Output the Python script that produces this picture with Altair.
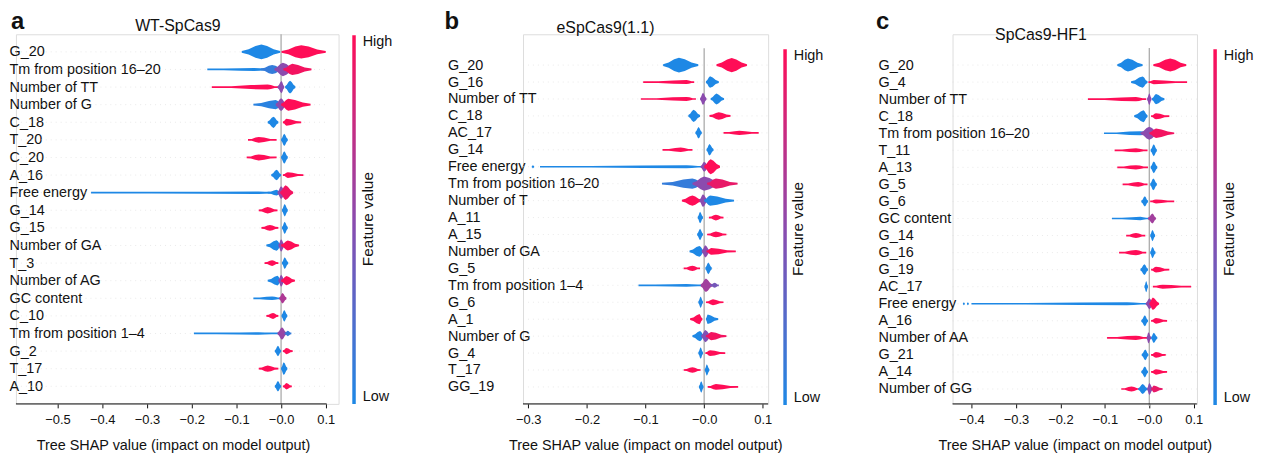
import altair as alt
import pandas as pd

FONT = "Liberation Sans"
INK = "#111111"
BLUE, PURPLE, RED = "#1E88E5", "#8B4BAE", "#FF0D57"
XTITLE = "Tree SHAP value (impact on model output)"

# ---------------- data ----------------
# each blob: (x_start, x_peak, x_end, peak half-thickness in row units, feature value 0=low..1=high)
a_name, a_letter = "WT-SpCas9", "a"
a_features = ["G_20", "Tm from position 16–20", "Number of TT", "Number of G", "C_18", "T_20", "C_20",
              "A_16", "Free energy", "G_14", "G_15", "Number of GA", "T_3", "Number of AG", "GC content",
              "C_10", "Tm from position 1–4", "G_2", "T_17", "A_10"]
a_blobs = [
    [(-0.088, -0.044, -0.002, 0.42, 0.0), (0.001, 0.045, 0.100, 0.38, 1.0)],
    [(-0.165, -0.06, -0.02, 0.09, 0.0), (-0.045, -0.02, 0.005, 0.26, 0.1), (-0.015, 0.004, 0.03, 0.38, 0.5), (0.005, 0.025, 0.068, 0.32, 0.95)],
    [(-0.155, -0.03, -0.006, 0.14, 1.0), (-0.008, 0.001, 0.007, 0.35, 0.5), (0.009, 0.02, 0.032, 0.36, 0.0)],
    [(-0.062, -0.012, 0.004, 0.26, 0.05), (-0.012, 0.0, 0.012, 0.36, 0.5), (0.0, 0.016, 0.066, 0.34, 1.0)],
    [(-0.030, -0.017, -0.006, 0.32, 0.0), (0.004, 0.012, 0.045, 0.2, 1.0)],
    [(-0.074, -0.05, -0.01, 0.16, 1.0), (0.0, 0.007, 0.015, 0.35, 0.0)],
    [(-0.077, -0.05, -0.01, 0.17, 1.0), (0.0, 0.007, 0.015, 0.35, 0.0)],
    [(-0.022, -0.01, 0.0, 0.3, 0.0), (0.004, 0.015, 0.05, 0.16, 1.0)],
    [(-0.425, -0.05, -0.005, 0.07, 0.0), (-0.03, -0.01, 0.0, 0.16, 0.0), (-0.008, 0.0, 0.01, 0.36, 0.5), (-0.002, 0.01, 0.027, 0.42, 0.95)],
    [(-0.05, -0.03, -0.008, 0.18, 1.0), (0.002, 0.008, 0.015, 0.35, 0.0)],
    [(-0.044, -0.025, -0.006, 0.17, 1.0), (0.002, 0.008, 0.015, 0.35, 0.0)],
    [(-0.033, -0.01, 0.0, 0.3, 0.0), (-0.006, 0.0, 0.008, 0.36, 0.5), (0.0, 0.015, 0.04, 0.28, 1.0)],
    [(-0.037, -0.02, -0.006, 0.16, 1.0), (0.002, 0.008, 0.016, 0.33, 0.0)],
    [(-0.03, -0.008, 0.0, 0.28, 0.0), (-0.006, 0.0, 0.008, 0.34, 0.5), (0.0, 0.012, 0.031, 0.26, 1.0)],
    [(-0.062, -0.02, 0.0, 0.1, 0.0), (-0.004, 0.003, 0.012, 0.3, 0.65)],
    [(-0.033, -0.018, -0.006, 0.17, 1.0), (0.001, 0.007, 0.014, 0.33, 0.0)],
    [(-0.195, -0.05, -0.005, 0.07, 0.0), (-0.008, 0.002, 0.012, 0.36, 0.55), (0.008, 0.015, 0.023, 0.15, 0.1)],
    [(-0.014, -0.007, 0.0, 0.3, 0.0), (0.004, 0.012, 0.026, 0.18, 1.0)],
    [(-0.05, -0.03, -0.006, 0.18, 1.0), (0.0, 0.006, 0.014, 0.36, 0.0)],
    [(-0.014, -0.007, 0.0, 0.3, 0.0), (0.004, 0.012, 0.024, 0.18, 1.0)],
]
a_ticks = [-0.5, -0.4, -0.3, -0.2, -0.1, 0.0, 0.1]
a_axis = [-0.593, 0.102]

b_name, b_letter = "eSpCas9(1.1)", "b"
b_features = ["G_20", "G_16", "Number of TT", "C_18", "AC_17", "G_14", "Free energy", "Tm from position 16–20",
              "Number of T", "A_11", "A_15", "Number of GA", "G_5", "Tm from position 1–4", "G_6", "A_1",
              "Number of G", "G_4", "T_17", "GG_19"]
b_blobs = [
    [(-0.07, -0.043, -0.01, 0.44, 0.0), (0.021, 0.047, 0.073, 0.42, 1.0)],
    [(-0.104, -0.03, -0.017, 0.12, 1.0), (0.003, 0.01, 0.025, 0.34, 0.0)],
    [(-0.108, -0.03, -0.014, 0.12, 1.0), (-0.007, -0.002, 0.004, 0.36, 0.5), (0.011, 0.021, 0.034, 0.32, 0.0)],
    [(-0.027, -0.018, -0.007, 0.36, 0.0), (0.009, 0.025, 0.045, 0.22, 1.0)],
    [(-0.015, -0.0095, -0.004, 0.34, 0.0), (0.033, 0.06, 0.093, 0.12, 1.0)],
    [(-0.071, -0.04, -0.02, 0.13, 1.0), (0.004, 0.009, 0.016, 0.34, 0.0)],
    [(-0.294, -0.292, -0.29, 0.1, 0.0), (-0.28, -0.03, 0.0, 0.09, 0.0), (-0.006, 0.0, 0.008, 0.3, 0.5), (0.0, 0.011, 0.027, 0.44, 1.0)],
    [(-0.072, -0.02, 0.0, 0.3, 0.1), (-0.02, 0.0, 0.03, 0.42, 0.5), (0.005, 0.02, 0.057, 0.3, 0.9)],
    [(-0.038, -0.02, -0.004, 0.3, 1.0), (-0.008, -0.002, 0.006, 0.38, 0.5), (0.0, 0.01, 0.051, 0.3, 0.0)],
    [(-0.011, -0.007, -0.002, 0.34, 0.0), (0.008, 0.02, 0.033, 0.17, 1.0)],
    [(-0.012, -0.007, -0.002, 0.34, 0.0), (0.005, 0.02, 0.038, 0.17, 1.0)],
    [(-0.025, -0.008, 0.0, 0.32, 0.0), (-0.004, 0.002, 0.01, 0.36, 0.5), (0.004, 0.012, 0.054, 0.2, 1.0)],
    [(-0.035, -0.02, -0.007, 0.16, 1.0), (0.002, 0.007, 0.013, 0.34, 0.0)],
    [(-0.112, -0.03, 0.0, 0.08, 0.0), (-0.006, 0.003, 0.014, 0.4, 0.6), (0.01, 0.018, 0.025, 0.15, 0.4)],
    [(-0.01, -0.006, -0.002, 0.34, 0.0), (0.003, 0.015, 0.033, 0.17, 1.0)],
    [(-0.024, -0.008, -0.003, 0.3, 1.0), (0.003, 0.006, 0.024, 0.28, 0.0)],
    [(-0.02, -0.007, 0.0, 0.3, 0.0), (-0.005, 0.002, 0.012, 0.36, 0.45), (0.003, 0.012, 0.038, 0.25, 0.95)],
    [(-0.01, -0.006, -0.002, 0.34, 0.0), (0.002, 0.01, 0.036, 0.17, 1.0)],
    [(-0.035, -0.02, -0.006, 0.16, 1.0), (0.001, 0.0045, 0.009, 0.34, 0.0)],
    [(-0.009, -0.005, -0.001, 0.34, 0.0), (0.006, 0.02, 0.058, 0.17, 1.0)],
]
b_ticks = [-0.3, -0.2, -0.1, 0.0, 0.1]
b_axis = [-0.309, 0.109]

c_name, c_letter = "SpCas9-HF1", "c"
c_features = ["G_20", "G_4", "Number of TT", "C_18", "Tm from position 16–20", "T_11", "A_13", "G_5", "G_6",
              "GC content", "G_14", "G_16", "G_19", "AC_17", "Free energy", "A_16", "Number of AA", "G_21",
              "A_14", "Number of GG"]
c_blobs = [
    [(-0.072, -0.048, -0.015, 0.38, 0.0), (0.009, 0.047, 0.083, 0.38, 1.0)],
    [(-0.041, -0.015, -0.004, 0.33, 0.0), (-0.002, 0.01, 0.085, 0.12, 1.0)],
    [(-0.138, -0.03, -0.007, 0.13, 1.0), (-0.005, 0.0, 0.005, 0.35, 0.5), (0.006, 0.015, 0.034, 0.3, 0.0)],
    [(-0.034, -0.013, -0.004, 0.35, 0.0), (0.004, 0.015, 0.045, 0.18, 1.0)],
    [(-0.102, -0.02, 0.0, 0.12, 0.0), (-0.02, 0.0, 0.02, 0.38, 0.5), (0.0, 0.015, 0.056, 0.28, 0.95)],
    [(-0.078, -0.03, -0.004, 0.12, 1.0), (0.003, 0.01, 0.017, 0.35, 0.0)],
    [(-0.072, -0.03, -0.003, 0.13, 1.0), (0.003, 0.01, 0.018, 0.35, 0.0)],
    [(-0.06, -0.025, -0.004, 0.14, 1.0), (0.002, 0.009, 0.017, 0.35, 0.0)],
    [(-0.018, -0.01, -0.003, 0.3, 0.0), (0.002, 0.015, 0.056, 0.12, 1.0)],
    [(-0.084, -0.02, 0.0, 0.1, 0.0), (-0.003, 0.007, 0.015, 0.3, 0.6)],
    [(-0.052, -0.03, -0.009, 0.15, 1.0), (0.002, 0.007, 0.013, 0.33, 0.0)],
    [(-0.068, -0.03, -0.007, 0.15, 1.0), (0.002, 0.007, 0.014, 0.33, 0.0)],
    [(-0.02, -0.011, -0.003, 0.32, 0.0), (0.004, 0.015, 0.045, 0.17, 1.0)],
    [(-0.011, -0.007, -0.003, 0.33, 0.0), (0.008, 0.03, 0.094, 0.12, 1.0)],
    [(-0.419, -0.417, -0.415, 0.09, 0.0), (-0.41, -0.408, -0.406, 0.09, 0.0), (-0.4, -0.05, -0.002, 0.09, 0.0), (-0.008, 0.0, 0.01, 0.32, 0.5), (0.0, 0.008, 0.022, 0.36, 1.0)],
    [(-0.018, -0.01, -0.003, 0.32, 0.0), (0.004, 0.015, 0.04, 0.17, 1.0)],
    [(-0.095, -0.03, -0.005, 0.13, 1.0), (-0.006, -0.002, 0.004, 0.33, 0.5), (0.004, 0.01, 0.018, 0.3, 0.0)],
    [(-0.017, -0.009, -0.002, 0.32, 0.0), (0.004, 0.015, 0.037, 0.17, 1.0)],
    [(-0.018, -0.01, -0.003, 0.32, 0.0), (0.004, 0.015, 0.04, 0.16, 1.0)],
    [(-0.063, -0.04, -0.02, 0.14, 1.0), (-0.025, -0.015, -0.004, 0.3, 0.0), (-0.005, 0.0, 0.008, 0.35, 0.5), (0.004, 0.01, 0.03, 0.2, 0.9)],
]
c_ticks = [-0.4, -0.3, -0.2, -0.1, 0.0, 0.1]
c_axis = [-0.4425, 0.107]

# ---------------- layout (not data) ----------------
H = 372
LAYOUT = {
    "a": dict(width=324.7, xdom=[-0.593, 0.1286], ydom=[-1.0, 20.0], lpad=7, legx=338.5, legy=1, leglen=371,
              titlex=163, titley=-3, letx=-5, lety=-5, fvx=354, fvy=186, axtitlex=158),
    "b": dict(width=246.7, xdom=[-0.309, 0.1091], ydom=[-1.82, 20.0], lpad=76, legx=262, legy=15, leglen=358,
              titlex=83, titley=-1, letx=-79, lety=-5, fvx=277, fvy=196, axtitlex=123),
    "c": dict(width=246.0, xdom=[-0.4425, 0.1072], ydom=[-1.806, 19.874], lpad=75, legx=262.5, legy=15, leglen=358,
              titlex=89, titley=6, letx=-77, lety=-5, fvx=278, fvy=196, axtitlex=123),
}
# bell-like outline of a blob: (fraction along side, fraction of peak thickness)
LEFT = [(0.0, 0.12), (0.35, 0.35), (0.7, 0.8)]
RIGHT = [(0.3, 0.8), (0.65, 0.35), (1.0, 0.12)]


def blob_frame(blobs):
    recs = []
    for i, row in enumerate(blobs):
        for j, (x0, xp, x1, t, c) in enumerate(row):
            prof = [(x0 + s * (xp - x0), f) for s, f in LEFT] + [(xp, 1.0)] + \
                   [(xp + s * (x1 - xp), f) for s, f in RIGHT]
            for x, f in prof:
                hw = max(f * t, 0.05)
                recs.append({"blob": f"{i:02d}_{j}", "x": x, "lo": i - hw, "hi": i + hw, "fv": c})
    return pd.DataFrame(recs)


def text_layer(txt, x, y, size, weight="normal", angle=None, align="center", baseline="alphabetic"):
    kw = dict(fontSize=size, fontWeight=weight, align=align, baseline=baseline, color=INK, font=FONT)
    if angle is not None:
        kw["angle"] = angle
    return alt.Chart(pd.DataFrame({"t": [txt]})).mark_text(**kw).encode(
        x=alt.value(x), y=alt.value(y), text="t:N")


def panel(key, name, letter, features, blobs, ticks, axis_ext):
    L = LAYOUT[key]
    n = len(features)
    xs = alt.Scale(domain=L["xdom"], nice=False, zero=False)
    ys = alt.Scale(domain=L["ydom"], nice=False, zero=False, reverse=True)
    xa = alt.Axis(values=ticks, title=XTITLE, domain=False, grid=False, ticks=True, tickSize=4,
                  tickColor=INK, tickWidth=1, labelFontSize=13, labelColor=INK, labelPadding=6,
                  labelFlush=False, labelFont=FONT,
                  labelExpr="datum.value == 0 ? '−0.0' : (datum.value < 0 ? '−' : '') + format(abs(datum.value), '.1f')",
                  titleFontSize=14.5, titleFontWeight="normal", titleColor=INK, titleFont=FONT,
                  titleX=L["axtitlex"], titleY=46, titleBaseline="alphabetic")
    arr = "[" + ",".join("'" + f + "'" for f in features) + "]"
    ya = alt.Axis(values=list(range(n)), labelExpr=arr + "[datum.value]", title=None, domain=False,
                  ticks=False, tickSize=0, grid=False, labelAlign="left", labelBaseline="middle",
                  labelPadding=L["lpad"], labelFontSize=14.5, labelColor=INK, labelFlush=False,
                  labelOverlap=False, labelFont=FONT)

    grid = alt.Chart(pd.DataFrame({"row": list(range(n)), "x1": [axis_ext[0]] * n, "x2": [axis_ext[1]] * n})
                     ).mark_rule(color="#dcdcdc", strokeWidth=0.6, strokeDash=[1, 4]).encode(
        x=alt.X("x1:Q", scale=xs, axis=xa), x2="x2:Q", y=alt.Y("row:Q", scale=ys, axis=ya))
    zero = alt.Chart(pd.DataFrame({"x": [0.0], "y1": [-1.0], "y2": [float(n)]})).mark_rule(
        color="#ababab", strokeWidth=1.3).encode(
        x=alt.X("x:Q", scale=xs, axis=xa), y=alt.Y("y1:Q", scale=ys, axis=ya), y2="y2:Q")
    areas = alt.Chart(blob_frame(blobs)).mark_area(orient="vertical", opacity=1).encode(
        x=alt.X("x:Q", scale=xs, axis=xa),
        y=alt.Y("lo:Q", scale=ys, axis=ya), y2="hi:Q",
        detail="blob:N",
        color=alt.Color("fv:Q", scale=alt.Scale(domain=[0, 0.5, 1], range=[BLUE, PURPLE, RED], interpolate="rgb"),
                        legend=alt.Legend(orient="none", legendX=L["legx"], legendY=L["legy"], direction="vertical",
                                          gradientLength=L["leglen"], gradientThickness=3.5, gradientStrokeWidth=0,
                                          title=None, values=[0, 1],
                                          labelExpr="datum.value > 0.5 ? 'High' : 'Low'",
                                          labelFontSize=14.5, labelColor=INK, labelOffset=7, labelFont=FONT,
                                          padding=0)))
    axline = alt.Chart(pd.DataFrame({"x1": [axis_ext[0]], "x2": [axis_ext[1]], "y": [L["ydom"][1]]})).mark_rule(
        color=INK, strokeWidth=1).encode(
        x=alt.X("x1:Q", scale=xs, axis=xa), x2="x2:Q", y=alt.Y("y:Q", scale=ys, axis=ya))
    t_title = text_layer(name, L["titlex"], L["titley"], 16)
    t_letter = text_layer(letter, L["letx"], L["lety"], 24, weight="bold", align="left")
    t_fv = text_layer("Feature value", L["fvx"], L["fvy"], 15.5, angle=270, baseline="middle")
    return alt.layer(grid, zero, areas, axline, t_title, t_letter, t_fv).properties(width=L["width"], height=H)


pa = panel("a", a_name, a_letter, a_features, a_blobs, a_ticks, a_axis)
pb = panel("b", b_name, b_letter, b_features, b_blobs, b_ticks, b_axis)
pc = panel("c", c_name, c_letter, c_features, c_blobs, c_ticks, c_axis)

chart = alt.hconcat(pa, pb, pc, spacing=185.3, bounds="flush").resolve_scale(
    x="independent", y="independent", color="independent").properties(
    padding={"left": 0, "top": 0, "right": 0, "bottom": 0}).configure_view(stroke=None).configure(font=FONT)

chart.save("out.html", embed_options={"renderer": "svg", "actions": False})
